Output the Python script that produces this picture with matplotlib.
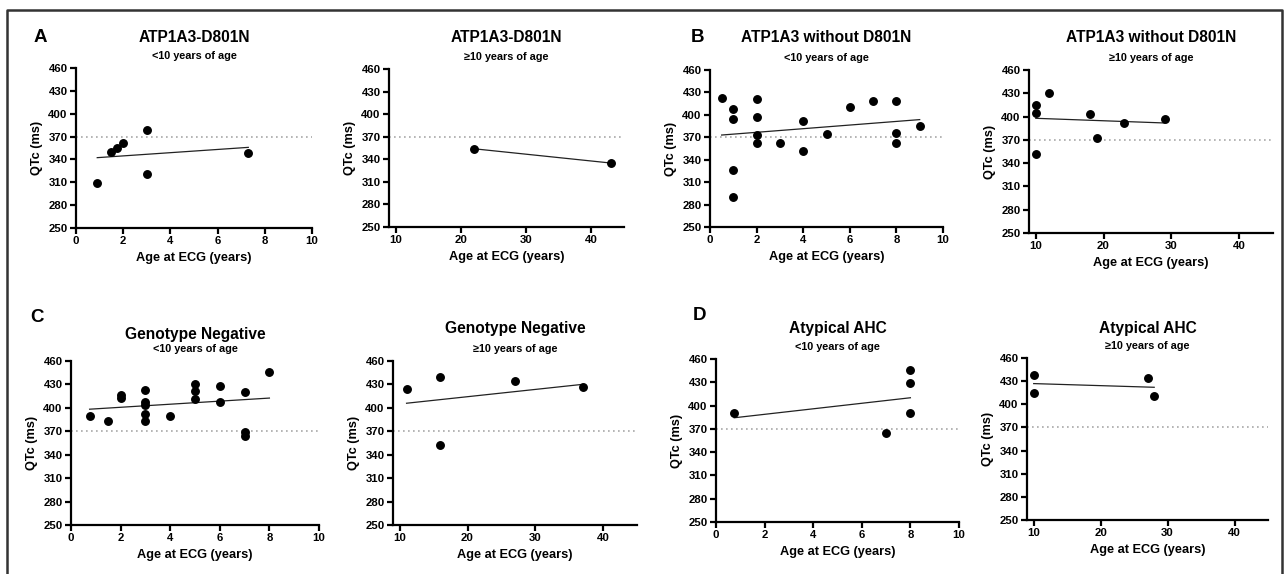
import matplotlib

matplotlib.use("Agg")
import matplotlib.pyplot as plt
import numpy as np
from matplotlib.lines import Line2D

plt.rcParams["font.family"] = ["Liberation Sans", "DejaVu Sans"]
plt.rcParams["font.weight"] = "bold"

W, H = 1287, 574

# ATP1A3-D801N
d801n_young_age = [0.9, 1.5, 1.75, 2, 3, 3, 7.3]
d801n_young_qtc = [309, 350, 355, 362, 378, 321, 349]
d801n_old_age = [22, 43]
d801n_old_qtc = [354, 335]

# ATP1A3 without D801N
other_young_age = [0.5, 1, 1, 1, 1, 2, 2, 2, 2, 3, 4, 4, 5, 6, 7, 8, 8, 8, 9]
other_young_qtc = [423, 408, 395, 326, 290, 421, 397, 373, 362, 362, 392, 351,
                   374, 411, 418, 419, 376, 362, 385]
other_old_age = [10, 10, 10, 12, 18, 19, 23, 29]
other_old_qtc = [415, 405, 352, 430, 403, 372, 392, 397]

# Genotype negative
neg_young_age = [0.75, 1.5, 2, 2, 3, 3, 3, 3, 3, 4, 5, 5, 5, 6, 6, 7, 7, 7, 8]
neg_young_qtc = [389, 383, 416, 413, 423, 408, 404, 392, 383, 389, 431, 422,
                 411, 428, 408, 420, 369, 364, 446]
neg_old_age = [11, 16, 16, 27, 37]
neg_old_qtc = [424, 439, 353, 435, 427]

# Atypical AHC
atyp_young_age = [0.75, 7, 8, 8, 8]
atyp_young_qtc = [390, 365, 446, 429, 391]
atyp_old_age = [10, 10, 27, 28]
atyp_old_qtc = [438, 415, 434, 411]

qtc_ticks = [250, 280, 310, 340, 370, 400, 430, 460]
young_ticks = [0, 2, 4, 6, 8, 10]
old_ticks = [10, 20, 30, 40]
qtc_cutoff = 370

panels = [
    # age, qtc, title, young?, axes box (left, top, right, bottom) in px, title y, letter
    (d801n_young_age, d801n_young_qtc, "ATP1A3-D801N", True, (76, 68, 312, 228), 38, "A"),
    (d801n_old_age, d801n_old_qtc, "ATP1A3-D801N", False, (389, 69, 624, 227), 38, None),
    (other_young_age, other_young_qtc, "ATP1A3 without D801N", True, (710, 70, 943, 227), 38, "B"),
    (other_old_age, other_old_qtc, "ATP1A3 without D801N", False, (1029, 70, 1273, 233), 38, None),
    (neg_young_age, neg_young_qtc, "Genotype Negative", True, (71, 361, 319, 525), 335, "C"),
    (neg_old_age, neg_old_qtc, "Genotype Negative", False, (393, 361, 637, 525), 329, None),
    (atyp_young_age, atyp_young_qtc, "Atypical AHC", True, (716, 359, 959, 522), 328, "D"),
    (atyp_old_age, atyp_old_qtc, "Atypical AHC", False, (1027, 358, 1268, 520), 329, None),
]
letter_pos = {"A": (40, 38), "B": (697, 38), "C": (37, 317), "D": (700, 315)}


def px_box(l, t, r, b):
    return [l / W, 1 - b / H, (r - l) / W, (b - t) / H]


fig = plt.figure(figsize=(W / 100, H / 100), dpi=100)

for age, qtc, title, young, (l, t, r, b), title_y, letter in panels:
    ax = fig.add_axes(px_box(l, t, r, b))
    if young:
        ax.set_xlim(0, 10)
        ax.set_xticks(young_ticks)
        sub = "<10 years of age"
    else:
        ax.set_xlim(9, 45)
        ax.set_xticks(old_ticks)
        sub = "\u226510 years of age"
    ax.set_ylim(250, 460)
    ax.set_yticks(qtc_ticks)

    ax.axhline(qtc_cutoff, color="#a8a8a8", lw=1.2, ls=(0, (1, 2)), zorder=1)
    k, c = np.polyfit(age, qtc, 1)
    xs = np.array([min(age), max(age)])
    ax.plot(xs, k * xs + c, color="#222222", lw=0.9, zorder=2)
    ax.plot(age, qtc, "o", color="black", ms=5.4, zorder=3, clip_on=False)

    for side in ("top", "right"):
        ax.spines[side].set_visible(False)
    for side in ("left", "bottom"):
        ax.spines[side].set_linewidth(1.6)
    ax.tick_params(width=1.6, length=4, labelsize=8.2, pad=2)
    for lab in ax.get_xticklabels() + ax.get_yticklabels():
        lab.set_fontweight("bold")
    ax.set_xlabel("Age at ECG (years)", fontsize=9.2, fontweight="bold", labelpad=4)
    ax.set_ylabel("QTc (ms)", fontsize=9.2, fontweight="bold", labelpad=4)

    xc = (l + r) / 2 / W
    fig.text(xc, 1 - title_y / H, title, ha="center", va="center",
             fontsize=11.2, fontweight="bold")
    fig.text(xc, 1 - (t - 12) / H, sub, ha="center", va="center",
             fontsize=7.8, fontweight="bold")
    if letter:
        lx, ly = letter_pos[letter]
        fig.text(lx / W, 1 - ly / H, letter, ha="center", va="center",
                 fontsize=13.5, fontweight="bold")

# frame around the whole figure
frame_x = [7 / W, 7 / W, 1282 / W, 1282 / W]
frame_y = [0, 1 - 10 / H, 1 - 10 / H, 0]
fig.add_artist(Line2D(frame_x, frame_y, color="#333333", lw=1.8,
                      transform=fig.transFigure))

fig.savefig("out.png", dpi=100)
